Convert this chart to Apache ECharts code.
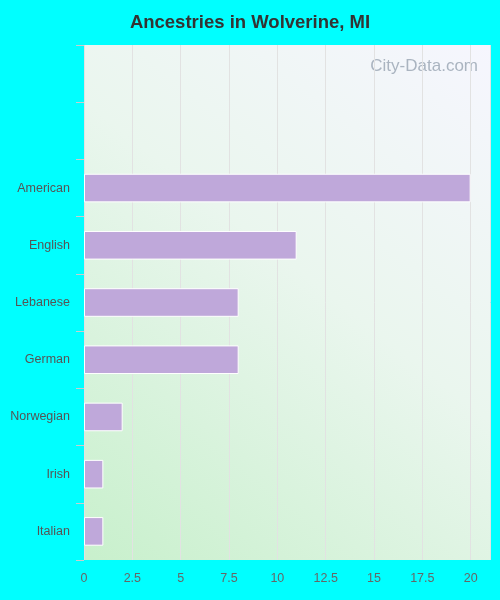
<!DOCTYPE html>
<html><head><meta charset="utf-8">
<script src="https://cdn.jsdelivr.net/npm/echarts@6/dist/echarts.min.js"></script>
<style>html,body{margin:0;padding:0;background:#00ffff}#c{width:500px;height:600px}</style>
</head><body><div id="c"></div>
<script>
const categories = ['Italian','Irish','Norwegian','German','Lebanese','English','American','',''];
const values = [1,1,2,8,8,11,20,null,null];
const chart = echarts.init(document.getElementById('c'));
chart.setOption({
  backgroundColor:'#00ffff',
  textStyle:{fontFamily:'Liberation Sans'},
  title:{text:'Ancestries in Wolverine, MI',left:'center',top:8,textStyle:{fontSize:18.5,fontWeight:'bold',color:'#333',fontFamily:'Liberation Sans'}},
  grid:{left:84,right:10,top:45,bottom:40,show:true,borderWidth:0,
    backgroundColor:new echarts.graphic.LinearGradient(0,1,1,0,[{offset:0,color:'#c8f0cc'},{offset:0.55,color:'#eaf6ee'},{offset:1,color:'#f6f6fe'}])},
  xAxis:{type:'value',min:0,max:21,interval:2.5,
    axisLabel:{showMaxLabel:false,color:'#666',fontSize:12.5,margin:12,formatter:v=>String(v)},
    axisLine:{show:false},axisTick:{show:false},
    splitLine:{lineStyle:{color:'#e2e2e2'}}},
  yAxis:{type:'category',data:categories,
    axisLabel:{color:'#555',fontSize:12.5,margin:14},
    axisLine:{show:false},axisTick:{show:true,length:8,lineStyle:{color:'#ccc'}},
    splitLine:{show:false}},
  graphic:[{type:'text',right:22,top:58,style:{text:'City-Data.com',fill:'#aab4c0',fontSize:17,fontFamily:'Liberation Sans'}}],
  series:[{type:'bar',data:values,barWidth:'50%',itemStyle:{color:'#bfa8da',borderColor:'#fff',borderWidth:1}}]
});
</script></body></html>
